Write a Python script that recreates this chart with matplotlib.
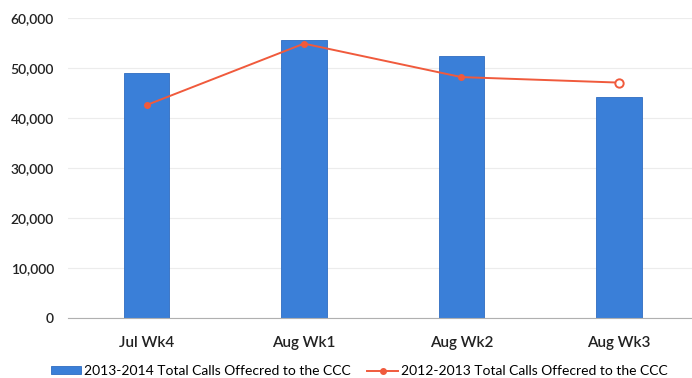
import matplotlib.pyplot as plt
from matplotlib.ticker import FuncFormatter

plt.rcParams["font.family"] = ["Lato", "DejaVu Sans"]

weeks = ["Jul Wk4", "Aug Wk1", "Aug Wk2", "Aug Wk3"]
calls_1314 = [49000, 55700, 52400, 44200]
calls_1213 = [42600, 54900, 48200, 47100]

fig = plt.figure(figsize=(6.92, 3.78), dpi=100)
ax = fig.add_axes([0.098, 0.159, 0.91, 0.793])

x = list(range(len(weeks)))
bars = ax.bar(x, calls_1314, width=0.29, color="#3a7fd8", edgecolor="#2f6cc0", linewidth=0.6,
              label="2013-2014 Total Calls Offecred to the CCC", zorder=2)
line, = ax.plot(x, calls_1213, color="#f05a3c", linewidth=1.4, marker="o", markersize=4,
                markevery=[0, 1, 2],
                label="2012-2013 Total Calls Offecred to the CCC", zorder=3)
# last week drawn with an open marker
ax.plot(x[-1], calls_1213[-1], linestyle="none", marker="o", markersize=6,
        markerfacecolor="white", markeredgecolor="#f05a3c", markeredgewidth=1.4, zorder=4)

ax.set_xlim(-0.5, 3.5)
ax.set_ylim(0, 60000)
ax.set_yticks(range(0, 60001, 10000))
ax.yaxis.set_major_formatter(FuncFormatter(lambda v, p: f"{int(v):,}"))
ax.set_xticks(x)
ax.set_xticklabels(weeks)
ax.grid(axis="y", color="#ececec", linewidth=0.8, zorder=0)
for s in ["top", "right", "left"]:
    ax.spines[s].set_visible(False)
ax.spines["bottom"].set_color("#b0b0b0")
ax.spines["bottom"].set_linewidth(0.8)
ax.tick_params(axis="both", length=0, colors="#222222")
ax.tick_params(axis="y", pad=10, labelsize=10)
ax.tick_params(axis="x", pad=13, labelsize=11)
for lbl in ax.get_xticklabels() + ax.get_yticklabels():
    lbl.set_fontweight("semibold")

fig.legend(handles=[bars, line], loc="center", bbox_to_anchor=(0.519, 7 / 378), ncol=2,
           frameon=False, fontsize=10, handlelength=2.2, handleheight=0.45,
           columnspacing=1.2, handletextpad=0.2, borderaxespad=0, borderpad=0)

plt.savefig("out.png", dpi=100)
plt.close("all")
